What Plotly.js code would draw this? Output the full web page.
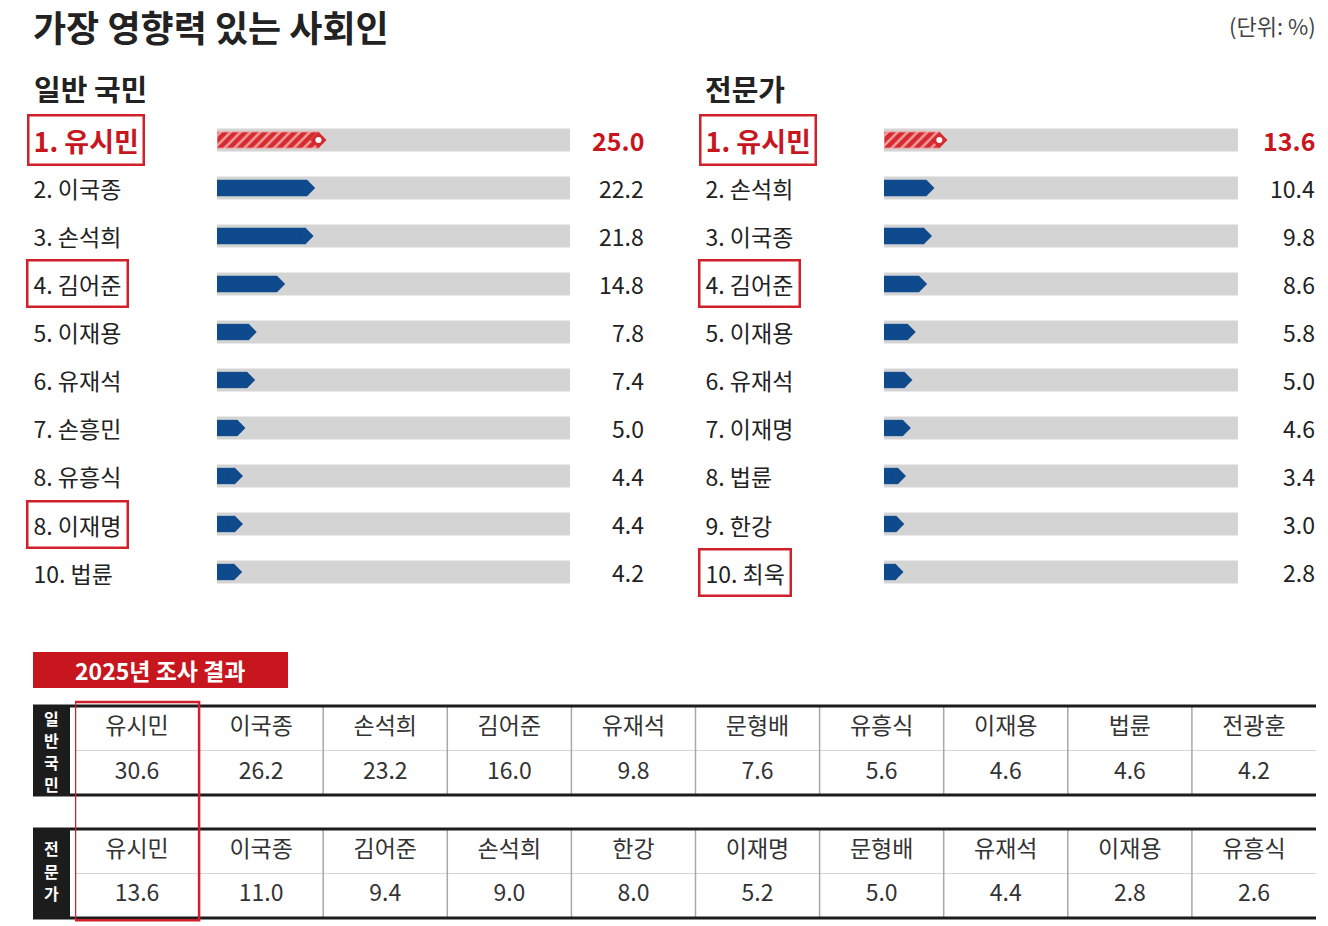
<!DOCTYPE html>
<html>
<head>
<meta charset="utf-8">
<script src="https://cdn.plot.ly/plotly-3.0.1.min.js"></script>
<style>
html,body{margin:0;padding:0;background:#ffffff;}
#chart{width:1328px;height:926px;}
</style>
</head>
<body>
<div id="chart"></div>
<script>
// ---------------- data ----------------
const chartTitle = '가장 영향력 있는 사회인';
const unitLabel = '(단위: %)';

const generalTitle = '일반 국민';
const generalRanks = [1, 2, 3, 4, 5, 6, 7, 8, 8, 10];
const generalNames = ['유시민', '이국종', '손석희', '김어준', '이재용', '유재석', '손흥민', '유흥식', '이재명', '법륜'];
const generalValues = [25.0, 22.2, 21.8, 14.8, 7.8, 7.4, 5.0, 4.4, 4.4, 4.2];
const generalBoxed = ['유시민', '김어준', '이재명'];

const expertTitle = '전문가';
const expertRanks = [1, 2, 3, 4, 5, 6, 7, 8, 9, 10];
const expertNames = ['유시민', '손석희', '이국종', '김어준', '이재용', '유재석', '이재명', '법륜', '한강', '최욱'];
const expertValues = [13.6, 10.4, 9.8, 8.6, 5.8, 5.0, 4.6, 3.4, 3.0, 2.8];
const expertBoxed = ['유시민', '김어준', '최욱'];

const tableTitle = '2025년 조사 결과';
const tableRowLabels = ['일반국민', '전문가'];
const table2025GeneralNames = ['유시민', '이국종', '손석희', '김어준', '유재석', '문형배', '유흥식', '이재용', '법륜', '전광훈'];
const table2025GeneralValues = [30.6, 26.2, 23.2, 16.0, 9.8, 7.6, 5.6, 4.6, 4.6, 4.2];
const table2025ExpertNames = ['유시민', '이국종', '김어준', '손석희', '한강', '이재명', '문형배', '유재석', '이재용', '유흥식'];
const table2025ExpertValues = [13.6, 11.0, 9.4, 9.0, 8.0, 5.2, 5.0, 4.4, 2.8, 2.6];

// ---------------- style ----------------
const W = 1328, H = 926;
const FONT = '"Noto Sans CJK KR", "Noto Sans", sans-serif';
const RED = '#c8161e';
const BAR_RED = '#d52a30';
const BLUE = '#0e4a8c';
const TRACK = '#d4d4d4';
const INK = '#222222';
const AXIS_MAX = 87;
const px = v => v / W;
const py = v => 1 - v / H;
const idx = arr => arr.map((_, i) => i);

// table row positions (in y3 units)
const T = {name1: 0, val1: 1, top1: -0.5, mid1: 0.5, bot1: 1.5,
           name2: 2.76, val2: 3.76, top2: 2.26, mid2: 3.26, bot2: 4.26};

function barTraces(values, xa, ya) {
  const ys = idx(values);
  const common = {type: 'bar', orientation: 'h', xaxis: xa, yaxis: ya, hoverinfo: 'skip'};
  return [
    Object.assign({}, common, {x: values.map(() => AXIS_MAX), y: ys, width: 0.48, marker: {color: TRACK}}),
    Object.assign({}, common, {x: values.slice(1), y: ys.slice(1), width: 0.34, marker: {color: BLUE}}),
    Object.assign({}, common, {x: values.slice(0, 1), y: ys.slice(0, 1), width: 0.34,
      marker: {color: BAR_RED, line: {color: '#f0b0b0', width: 1},
               pattern: {shape: '/', fgcolor: '#f2a0a0', bgcolor: BAR_RED, size: 7, solidity: 0.35}}}),
    {type: 'scatter', mode: 'markers', x: values, y: ys, xaxis: xa, yaxis: ya, hoverinfo: 'skip',
     marker: {symbol: 'diamond', size: 12.5, color: values.map((_, i) => i === 0 ? BAR_RED : BLUE), line: {width: 0}}},
    {type: 'scatter', mode: 'markers', x: values.slice(0, 1), y: ys.slice(0, 1), xaxis: xa, yaxis: ya, hoverinfo: 'skip',
     marker: {symbol: 'circle', size: 6, color: '#ffffff'}}
  ];
}

function labelAnnotations(ranks, names, values, boxed, yref, textStart, valueX) {
  const out = [];
  names.forEach((n, i) => {
    const top = i === 0;
    const pad = top ? 4 : 5;
    const bw = 2.5;
    out.push({
      xref: 'paper', yref: yref, x: px(textStart - pad - bw), y: i, xanchor: 'left', yanchor: 'middle',
      text: ranks[i] + '. ' + n, showarrow: false,
      font: {family: FONT, size: top ? 27 : 23, color: top ? RED : INK, weight: top ? 700 : 400},
      borderpad: pad, borderwidth: bw, bordercolor: boxed.includes(n) ? '#d0202a' : 'rgba(0,0,0,0)'
    });
    out.push({
      xref: 'paper', yref: yref, x: px(valueX), y: i, xanchor: 'right', yanchor: 'middle',
      text: values[i].toFixed(1), showarrow: false,
      font: {family: FONT, size: top ? 25 : 23, color: top ? RED : INK, weight: top ? 700 : 400}
    });
  });
  return out;
}

const cols = table2025GeneralNames.map((_, i) => i + 1);
function tableText(texts, yPos) {
  return {type: 'scatter', mode: 'text', x: cols, y: cols.map(() => yPos), text: texts,
          textposition: 'middle center', xaxis: 'x3', yaxis: 'y3', hoverinfo: 'skip',
          textfont: {family: FONT, size: 23, color: '#333333'}};
}

const data = [].concat(
  barTraces(generalValues, 'x', 'y'),
  barTraces(expertValues, 'x2', 'y2'),
  [tableText(table2025GeneralNames, T.name1),
   tableText(table2025GeneralValues.map(v => v.toFixed(1)), T.val1),
   tableText(table2025ExpertNames, T.name2),
   tableText(table2025ExpertValues.map(v => v.toFixed(1)), T.val2)]
);

// ---------------- shapes ----------------
const shapes = [];
[[T.top1, T.bot1, T.mid1], [T.top2, T.bot2, T.mid2]].forEach(([t, b, m]) => {
  shapes.push({type: 'rect', xref: 'paper', yref: 'y3', x0: px(33), x1: px(70), y0: t, y1: b,
               fillcolor: '#1c1c1c', line: {width: 0}, layer: 'below'});
  shapes.push({type: 'line', xref: 'x3', yref: 'y3', x0: 0.5, x1: 10.5, y0: m, y1: m,
               line: {color: '#d6d6d6', width: 1}});
  for (let c = 1; c < cols.length; c++) {
    shapes.push({type: 'line', xref: 'x3', yref: 'y3', x0: c + 0.5, x1: c + 0.5, y0: t, y1: b,
                 line: {color: '#a8a8a8', width: 1.5}});
  }
  [t, b].forEach(yy => shapes.push({type: 'line', xref: 'paper', yref: 'y3', x0: px(33), x1: px(1316),
                                    y0: yy, y1: yy, line: {color: '#1c1c1c', width: 3}}));
});
shapes.push({type: 'rect', xref: 'x3', yref: 'y3', x0: 0.5, x1: 1.5, y0: -0.59, y1: 4.31,
             line: {color: '#d0202a', width: 2.5}, fillcolor: 'rgba(0,0,0,0)'});
shapes.push({type: 'rect', xref: 'paper', yref: 'paper', x0: px(33), x1: px(288), y0: py(688), y1: py(652),
             fillcolor: '#c8161e', line: {width: 0}});

// ---------------- annotations ----------------
const annotations = [
  {xref: 'paper', yref: 'paper', x: px(31), y: py(26), xanchor: 'left', yanchor: 'middle', showarrow: false,
   text: chartTitle, font: {family: FONT, size: 36, color: '#222222', weight: 700}},
  {xref: 'paper', yref: 'paper', x: px(1318), y: py(25), xanchor: 'right', yanchor: 'middle', showarrow: false,
   text: unitLabel, font: {family: FONT, size: 22, color: '#444444'}},
  {xref: 'paper', yref: 'paper', x: px(32), y: py(88), xanchor: 'left', yanchor: 'middle', showarrow: false,
   text: generalTitle, font: {family: FONT, size: 29, color: '#222222', weight: 700}},
  {xref: 'paper', yref: 'paper', x: px(703), y: py(88), xanchor: 'left', yanchor: 'middle', showarrow: false,
   text: expertTitle, font: {family: FONT, size: 29, color: '#222222', weight: 700}},
  {xref: 'paper', yref: 'paper', x: px(160), y: py(670), xanchor: 'center', yanchor: 'middle', showarrow: false,
   text: tableTitle, font: {family: FONT, size: 23, color: '#ffffff', weight: 700}}
];
// vertical row labels inside the black cells, one glyph per annotation
const rowLabelCenters = [[-0.23, 0.26, 0.76, 1.26], [2.69, 3.2, 3.71]];
tableRowLabels.forEach((lbl, r) => {
  lbl.split('').forEach((ch, k) => {
    annotations.push({xref: 'paper', yref: 'y3', x: px(51.5), y: rowLabelCenters[r][k],
                      xanchor: 'center', yanchor: 'middle', showarrow: false, text: ch,
                      font: {family: FONT, size: 16, color: '#ffffff', weight: 700}});
  });
});
annotations.push(...labelAnnotations(generalRanks, generalNames, generalValues, generalBoxed, 'y', 33, 646));
annotations.push(...labelAnnotations(expertRanks, expertNames, expertValues, expertBoxed, 'y2', 705, 1317));

const hiddenAxis = {showgrid: false, zeroline: false, showticklabels: false, showline: false, ticks: '', fixedrange: true};
const yDomain = [py(596), py(116)];

const layout = {
  width: W, height: H,
  margin: {l: 0, r: 0, t: 0, b: 0},
  paper_bgcolor: '#ffffff', plot_bgcolor: 'rgba(0,0,0,0)',
  showlegend: false, barmode: 'overlay',
  font: {family: FONT, color: INK},
  xaxis: Object.assign({}, hiddenAxis, {domain: [px(217), px(570)], range: [0, AXIS_MAX], anchor: 'y'}),
  yaxis: Object.assign({}, hiddenAxis, {domain: yDomain, range: [9.5, -0.5], anchor: 'x'}),
  xaxis2: Object.assign({}, hiddenAxis, {domain: [px(884), px(1238)], range: [0, AXIS_MAX], anchor: 'y2'}),
  yaxis2: Object.assign({}, hiddenAxis, {domain: yDomain, range: [9.5, -0.5], anchor: 'x2'}),
  xaxis3: Object.assign({}, hiddenAxis, {domain: [px(75), px(1316)], range: [0.5, 10.5], anchor: 'y3'}),
  yaxis3: Object.assign({}, hiddenAxis, {domain: [0, py(690)], range: [4.44, -0.86], anchor: 'x3'}),
  shapes: shapes,
  annotations: annotations
};

Plotly.newPlot('chart', data, layout, {displayModeBar: false, staticPlot: true});
</script>
</body>
</html>
